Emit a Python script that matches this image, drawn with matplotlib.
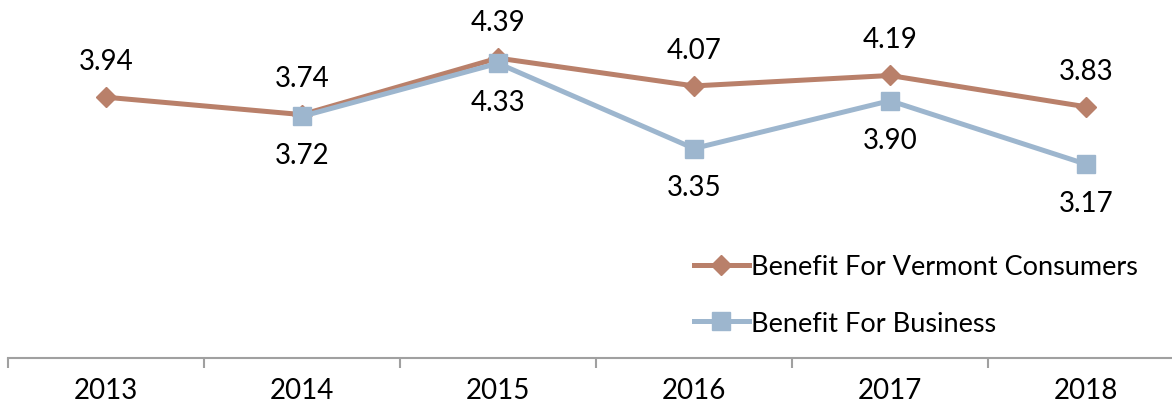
import matplotlib.pyplot as plt
import numpy as np

plt.rcParams["font.family"] = ["Lato", "DejaVu Sans"]

years = ["2013", "2014", "2015", "2016", "2017", "2018"]
consumers = [3.94, 3.74, 4.39, 4.07, 4.19, 3.83]
business = [np.nan, 3.72, 4.33, 3.35, 3.90, 3.17]

c_col = "#B9806A"
b_col = "#9DB6CE"

fig = plt.figure(figsize=(11.72, 4.10), dpi=100)
ax = fig.add_axes([8 / 1172, 51 / 410, 1176 / 1172, 359 / 410])

x = np.arange(len(years))
ax.plot(x, consumers, color=c_col, lw=3.6, marker="D", ms=10,
        label="Benefit For Vermont Consumers", zorder=3)
ax.plot(x, business, color=b_col, lw=3.6, marker="s", ms=13,
        label="Benefit For Business", zorder=4)

for xi, v in zip(x, consumers):
    ax.annotate(f"{v:.2f}", (xi, v), xytext=(0, 26), textcoords="offset points",
                ha="center", va="center", fontsize=20)
for xi, v in zip(x, business):
    if np.isnan(v):
        continue
    ax.annotate(f"{v:.2f}", (xi, v), xytext=(0, -28), textcoords="offset points",
                ha="center", va="center", fontsize=20)

ax.set_xlim(-0.5, 5.5)
ax.set_ylim(0.94, 5.07)

# hide bordure
for s in ["top", "right", "left"]:
    ax.spines[s].set_visible(False)
ax.spines["bottom"].set_color("#A0A0A0")
ax.spines["bottom"].set_linewidth(1.5)
ax.set_yticks([])

ax.set_xticks(np.arange(-0.5, 6, 1))
ax.set_xticklabels([])
ax.tick_params(axis="x", which="major", length=7, width=1.5, color="#A0A0A0", direction="out")
ax.set_xticks(x, minor=True)
ax.set_xticklabels(years, minor=True, fontsize=20)
ax.tick_params(axis="x", which="minor", length=0, pad=14)

ax.legend(loc="upper left", bbox_to_anchor=(670 / 1172, 1 - 231 / 410),
          bbox_transform=fig.transFigure, frameon=False, fontsize=19.5,
          handlelength=2.0, handletextpad=0.1, labelspacing=1.15)

fig.savefig("out.png", dpi=100)
